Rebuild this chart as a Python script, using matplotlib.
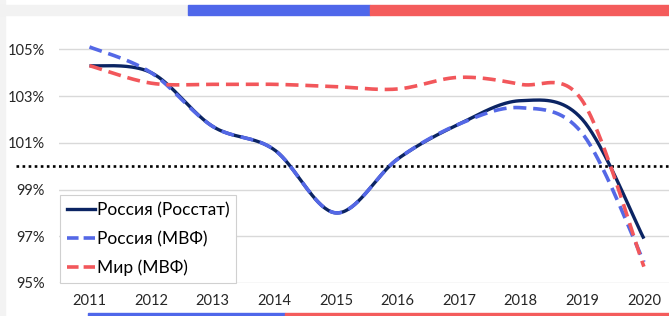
import numpy as np
import matplotlib
matplotlib.use("Agg")
import matplotlib.pyplot as plt
from matplotlib.patches import Rectangle
from matplotlib.lines import Line2D

years = ["2011", "2012", "2013", "2014", "2015", "2016", "2017", "2018", "2019", "2020"]
russia_rosstat = [104.3, 104.0, 101.7, 100.7, 98.0, 100.3, 101.8, 102.8, 102.0, 96.9]
russia_imf = [105.1, 104.0, 101.7, 100.7, 98.0, 100.3, 101.8, 102.5, 101.4, 95.9]
world_imf = [104.3, 103.55, 103.5, 103.5, 103.4, 103.3, 103.8, 103.5, 102.8, 95.7]
series_names = ["Россия (Росстат)", "Россия (МВФ)", "Мир (МВФ)"]
ytick_vals = [95, 97, 99, 101, 103, 105]
ytick_labels = ["95%", "97%", "99%", "101%", "103%", "105%"]

C_DARK = "#0b2463"
C_BLUE = "#5468e6"
C_RED = "#f2575b"
C_GRID = "#d9d9d9"

plt.rcParams['font.family'] = ['Lato', 'DejaVu Sans']


def smooth(xs, ys, n=40):
    """Excel-like smoothed line: cubic Bezier with Catmull-Rom control points."""
    P = np.column_stack([xs, ys]).astype(float)
    m = len(P)
    out = []
    for i in range(m - 1):
        p0 = P[i - 1] if i > 0 else P[i]
        p1 = P[i]
        p2 = P[i + 1]
        p3 = P[i + 2] if i + 2 < m else P[i + 1]
        c1 = p1 + (p2 - p0) / 6.0
        c2 = p2 - (p3 - p1) / 6.0
        t = np.linspace(0, 1, n)[:, None]
        seg = ((1 - t) ** 3) * p1 + 3 * ((1 - t) ** 2) * t * c1 + 3 * (1 - t) * t ** 2 * c2 + t ** 3 * p2
        if i > 0:
            seg = seg[1:]
        out.append(seg)
    out = np.vstack(out)
    return out[:, 0], out[:, 1]


W, H = 669, 316
fig = plt.figure(figsize=(W / 100, H / 100), dpi=100)
fig.patch.set_facecolor("white")

# decorative elements
fig.patches.append(Rectangle((0, 0), 5 / W, 1, transform=fig.transFigure, color="#f3f3f3", zorder=0))
fig.patches.append(Rectangle((0, 1 - 15 / H), 188 / W, 10 / H, transform=fig.transFigure, color="#f2f2f2", zorder=0))
fig.patches.append(Rectangle((188 / W, 1 - 15 / H), 182 / W, 10 / H, transform=fig.transFigure, color="#4f67ea", zorder=1))
fig.patches.append(Rectangle((370 / W, 1 - 15 / H), 299 / W, 10 / H, transform=fig.transFigure, color="#f45c5c", zorder=1))
fig.patches.append(Rectangle((88 / W, 0), 197 / W, 3.5 / H, transform=fig.transFigure, color="#4f67ea", zorder=1))
fig.patches.append(Rectangle((285 / W, 0), 384 / W, 3.5 / H, transform=fig.transFigure, color="#f45c5c", zorder=1))

ax_left = 58.7 / W
ax_w = 616 / W
ax_bottom = 1 - 283 / H
ax_top = 1 - 25.9 / H
ax = fig.add_axes([ax_left, ax_bottom, ax_w, ax_top - ax_bottom])
ax.set_facecolor("none")

x = np.arange(len(years))
ax.set_xlim(-0.5, len(years) - 0.5)
ax.set_ylim(95, 106)

for v in ytick_vals:
    ax.axhline(v, color=C_GRID, lw=1.0, zorder=1)

# 100% reference dotted line, extends left past axis
ax.plot([-1.2, len(years) - 0.5], [100, 100], color="black", lw=1.9,
        linestyle=(0, (1, 1.3)), clip_on=False, zorder=2)

xs, ys = smooth(x, russia_rosstat)
ax.plot(xs, ys, color=C_DARK, lw=2.4, solid_capstyle="butt", zorder=3)
xs, ys = smooth(x, russia_imf)
ax.plot(xs, ys, color=C_BLUE, lw=2.6, linestyle=(0, (3.6, 1.9)), dash_capstyle="butt", zorder=4)
xs, ys = smooth(x, world_imf)
ax.plot(xs, ys, color=C_RED, lw=2.6, linestyle=(0, (3.6, 1.9)), dash_capstyle="butt", zorder=5)

ax.set_xticks(x)
ax.set_xticklabels(years, fontsize=10.5, color="#262626")
ax.set_yticks(ytick_vals)
ax.set_yticklabels(ytick_labels, fontsize=10.5, color="#262626")
ax.tick_params(axis="both", length=0)
ax.tick_params(axis="x", pad=8)
ax.tick_params(axis="y", pad=10)
for s in ax.spines.values():
    s.set_visible(False)

handles = [
    Line2D([], [], color=C_DARK, lw=2.4),
    Line2D([], [], color=C_BLUE, lw=2.6, linestyle=(0, (3.2, 1.4))),
    Line2D([], [], color=C_RED, lw=2.6, linestyle=(0, (3.2, 1.4))),
]
leg = ax.legend(handles, series_names, loc="lower left",
                bbox_to_anchor=(1.5 / 616, 0.0), frameon=True, fancybox=False,
                fontsize=12.5, handlelength=1.6, handletextpad=0.1,
                labelspacing=0.72, borderpad=0.4, borderaxespad=0.0)
leg.get_frame().set_edgecolor("#d0d0d0")
leg.get_frame().set_linewidth(0.8)
leg.get_frame().set_facecolor("white")
leg.get_frame().set_alpha(1)
leg.set_zorder(10)
for t in leg.get_texts():
    t.set_color("#000000")

fig.savefig("out.png", dpi=100)
